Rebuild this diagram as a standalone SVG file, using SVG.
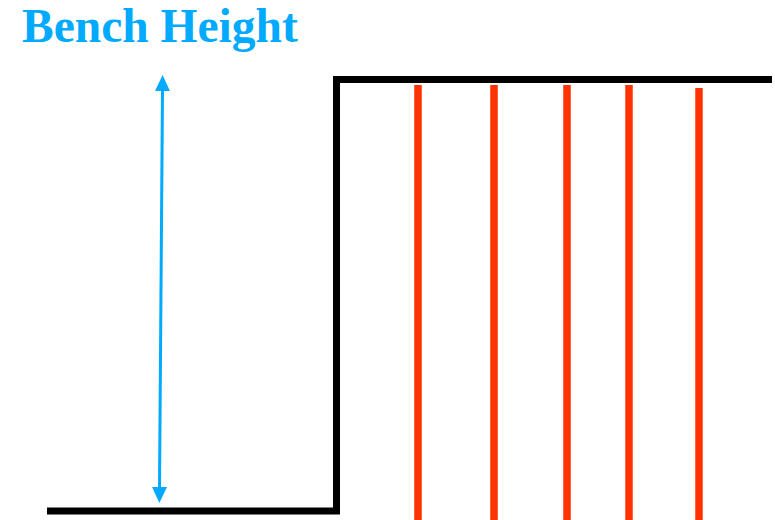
<svg xmlns="http://www.w3.org/2000/svg" width="775" height="520" viewBox="0 0 775 520">
<style>
.title{font-family:"Liberation Serif",serif;font-weight:bold;font-size:47.5px;fill:#00AAFF}
.bench{fill:none;stroke:#000;stroke-width:7;stroke-linejoin:miter}
.hole{stroke:#FF3300;stroke-width:7.5}
.dim{stroke:#00AAFF;stroke-width:3}
</style>
<defs>
<marker id="ah" viewBox="0 0 16 15" refX="1" refY="7.5" markerWidth="16" markerHeight="15" markerUnits="userSpaceOnUse" orient="auto-start-reverse">
<path d="M0,0 L16,7.5 L0,15 Z" fill="#00AAFF"/>
</marker>
</defs>
<g id="title"><text class="title" x="22" y="42">Bench Height</text></g>
<g id="bench"><polyline class="bench" points="47,511 336.5,511 336.5,79.5 772,79.5"/></g>
<g id="holes">
<line class="hole" x1="418" y1="85" x2="418" y2="520"/>
<line class="hole" x1="494" y1="85" x2="494" y2="520"/>
<line class="hole" x1="567" y1="85" x2="567" y2="520"/>
<line class="hole" x1="629" y1="85" x2="629" y2="520"/>
<line class="hole" x1="699" y1="88" x2="699" y2="520"/>
</g>
<g id="connectors">
<line class="dim" x1="162.5" y1="90" x2="159.5" y2="488" marker-start="url(#ah)" marker-end="url(#ah)"/>
</g>
</svg>
